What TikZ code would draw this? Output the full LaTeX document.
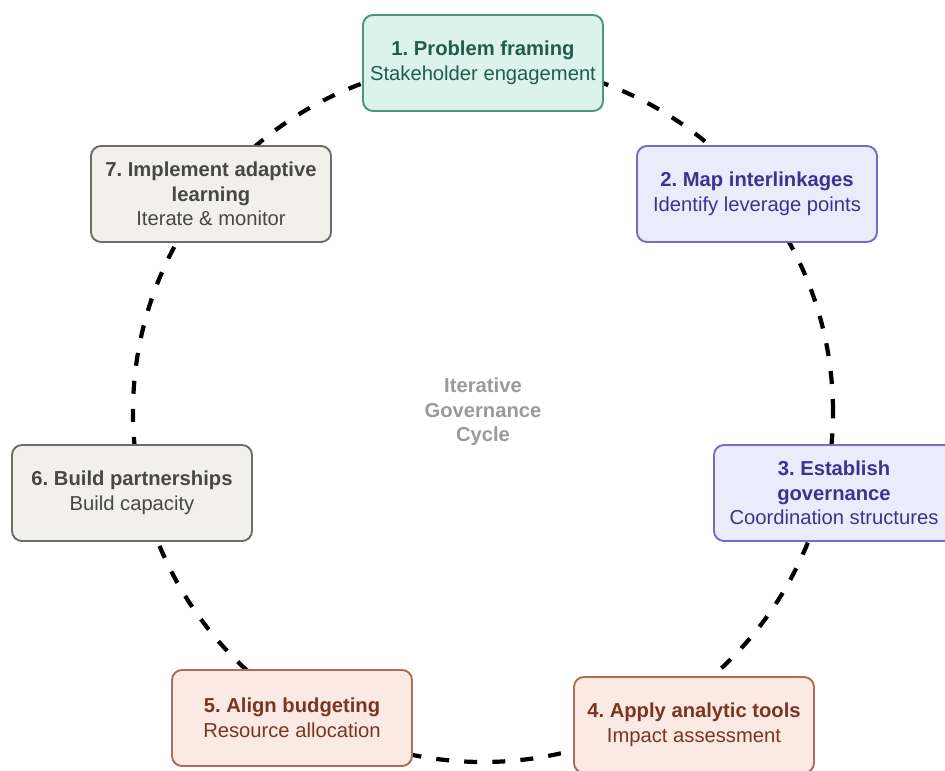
\documentclass[tikz,border=0pt]{standalone}
\usepackage{fontspec}
\setmainfont{Liberation Sans}
\frenchspacing
\definecolor{tealfill}{HTML}{DCF3EC}
\definecolor{tealline}{HTML}{4A9682}
\definecolor{tealtext}{HTML}{1F5E4F}
\definecolor{lilacfill}{HTML}{ECEBFC}
\definecolor{lilacline}{HTML}{766CC8}
\definecolor{lilactext}{HTML}{3A338F}
\definecolor{rustfill}{HTML}{FBEAE4}
\definecolor{rustline}{HTML}{AA6E5A}
\definecolor{rusttext}{HTML}{7A3521}
\definecolor{stonefill}{HTML}{F2F0EB}
\definecolor{stoneline}{HTML}{6E6E69}
\definecolor{stonetext}{HTML}{474747}
\definecolor{hubtext}{HTML}{9A9A9A}
\begin{document}
\begin{tikzpicture}[
    stagebox/.style={rectangle, rounded corners=0.2cm, line width=1.1pt, minimum width=4.8cm, minimum height=1.92cm, inner sep=1mm, align=center, font=\fontsize{11.5pt}{14pt}\selectfont},
    tealbox/.style={stagebox, draw=tealline, fill=tealfill, text=tealtext},
    lilacbox/.style={stagebox, draw=lilacline, fill=lilacfill, text=lilactext},
    rustbox/.style={stagebox, draw=rustline, fill=rustfill, text=rusttext},
    stonebox/.style={stagebox, draw=stoneline, fill=stonefill, text=stonetext},
    cycleline/.style={line width=2.4pt, dash pattern=on 7.4pt off 8.6pt}
]
        \useasboundingbox (-9.66,-7.16) rectangle (9.24,8.24);
        \coordinate (hub) at (0,0);
        \draw[cycleline] (hub) circle[radius=7];
        \node (cyclelabel) at (hub)[align=center, text=hubtext, font=\bfseries\fontsize{11.5pt}{14pt}\selectfont]{Iterative\\Governance\\Cycle};

        \node (framing) at (0,6.98)[tealbox]{\textbf{1. Problem framing}\\Stakeholder engagement};
        \node (interlink) at (5.48,4.36)[lilacbox]{\textbf{2. Map interlinkages}\\Identify leverage points};
        \node (governance) at (7.02,-1.62)[lilacbox]{\textbf{3. Establish}\\\textbf{governance}\\Coordination structures};
        \node (analytic) at (4.22,-6.26)[rustbox]{\textbf{4. Apply analytic tools}\\Impact assessment};
        \node (budgeting) at (-3.82,-6.12)[rustbox]{\textbf{5. Align budgeting}\\Resource allocation};
        \node (partners) at (-7.02,-1.62)[stonebox]{\textbf{6. Build partnerships}\\Build capacity};
        \node (adaptive) at (-5.44,4.36)[stonebox]{\textbf{7. Implement adaptive}\\\textbf{learning}\\Iterate \& monitor};
    \end{tikzpicture}
\end{document}
